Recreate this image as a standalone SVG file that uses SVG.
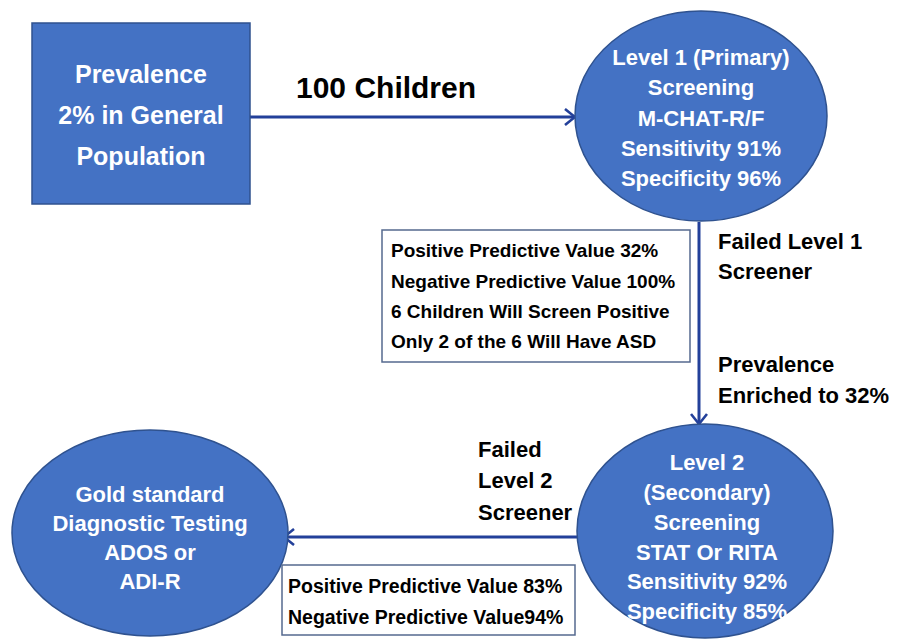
<svg xmlns="http://www.w3.org/2000/svg" width="907" height="639" viewBox="0 0 907 639">
<defs>
<marker id="arr" viewBox="0 0 12 18" refX="11" refY="9" markerWidth="12" markerHeight="18" markerUnits="userSpaceOnUse" orient="auto">
<path d="M1,1 L11,9 L1,17" fill="none" stroke="#23409A" stroke-width="2.6"/>
</marker>
<style>
.node{fill:#4472C4;stroke:#2F528F;stroke-width:1.5}
.wt{fill:#fff;font-family:"Liberation Sans",Arial,sans-serif;font-weight:bold;font-size:22px;text-anchor:middle}
.bt{fill:#000;font-family:"Liberation Sans",Arial,sans-serif;font-weight:bold;font-size:22px}
.box{fill:#fff;stroke:#55698F;stroke-width:1.5}
.bx{fill:#000;font-family:"Liberation Sans",Arial,sans-serif;font-weight:bold;font-size:19px}
.conn{stroke:#23409A;stroke-width:3;fill:none}
</style>
</defs>
<rect width="907" height="639" fill="#fff"/>
<g id="connectors">
<line class="conn" x1="250" y1="117" x2="575" y2="117" marker-end="url(#arr)"/>
<line class="conn" x1="699" y1="222" x2="699" y2="424" marker-end="url(#arr)"/>
<line class="conn" x1="578" y1="537" x2="284" y2="537" marker-end="url(#arr)"/>
</g>
<g id="prevalence">
<rect class="node" x="32" y="23" width="218" height="181"/>
<text class="wt" x="141" y="83" style="font-size:25px">Prevalence</text>
<text class="wt" x="141" y="124" style="font-size:25px">2% in General</text>
<text class="wt" x="141" y="165" style="font-size:25px">Population</text>
</g>
<g id="label-100">
<text class="bt" x="296" y="98" style="font-size:30px">100 Children</text>
</g>
<g id="level1">
<ellipse class="node" cx="701" cy="116" rx="126" ry="105"/>
<text class="wt" x="701" y="65">Level 1 (Primary)</text>
<text class="wt" x="701" y="95">Screening</text>
<text class="wt" x="701" y="126">M-CHAT-R/F</text>
<text class="wt" x="701" y="156">Sensitivity 91%</text>
<text class="wt" x="701" y="186">Specificity 96%</text>
</g>
<g id="box1">
<rect class="box" x="382" y="230" width="308" height="132"/>
<text class="bx" x="391" y="257">Positive Predictive Value 32%</text>
<text class="bx" x="391" y="288">Negative Predictive Value 100%</text>
<text class="bx" x="391" y="318">6 Children Will Screen Positive</text>
<text class="bx" x="391" y="348">Only 2 of the 6 Will Have ASD</text>
</g>
<g id="label-failed1">
<text class="bt" x="718" y="249">Failed Level 1</text>
<text class="bt" x="718" y="279">Screener</text>
<text class="bt" x="718" y="372">Prevalence</text>
<text class="bt" x="718" y="403">Enriched to 32%</text>
</g>
<g id="level2">
<ellipse class="node" cx="705" cy="531" rx="128" ry="107"/>
<text class="wt" x="707" y="470">Level 2</text>
<text class="wt" x="707" y="500">(Secondary)</text>
<text class="wt" x="707" y="530">Screening</text>
<text class="wt" x="707" y="560">STAT Or RITA</text>
<text class="wt" x="707" y="589">Sensitivity 92%</text>
<text class="wt" x="707" y="619">Specificity 85%</text>
</g>
<g id="label-failed2">
<text class="bt" x="478" y="457">Failed</text>
<text class="bt" x="478" y="488">Level 2</text>
<text class="bt" x="478" y="520">Screener</text>
</g>
<g id="gold">
<ellipse class="node" cx="150" cy="533" rx="138" ry="103"/>
<text class="wt" x="150" y="502">Gold standard</text>
<text class="wt" x="150" y="531">Diagnostic Testing</text>
<text class="wt" x="150" y="560">ADOS or</text>
<text class="wt" x="150" y="589">ADI-R</text>
</g>
<g id="box2">
<rect class="box" x="282" y="565" width="293" height="70"/>
<text class="bx" x="288" y="593" style="font-size:19.5px">Positive Predictive Value 83%</text>
<text class="bx" x="288" y="624" style="font-size:19.5px">Negative Predictive Value94%</text>
</g>
</svg>
